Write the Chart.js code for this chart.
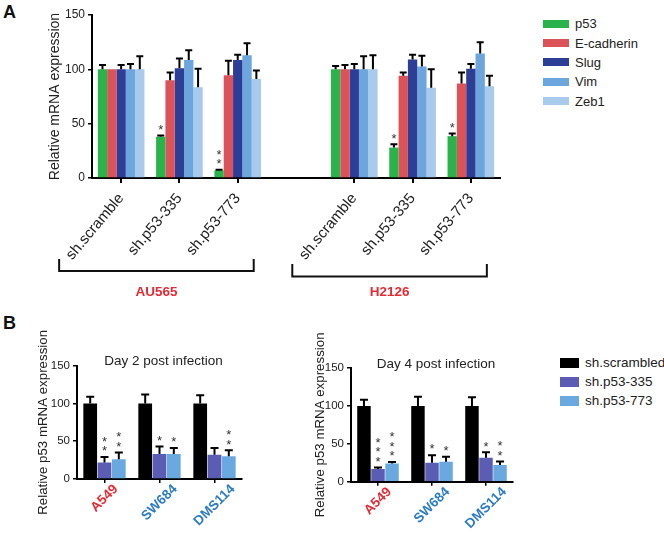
<!DOCTYPE html>
<html>
<head>
<meta charset="utf-8">
<script src="https://cdn.jsdelivr.net/npm/chart.js@4.4.1/dist/chart.umd.min.js"></script>
<style>
  body { margin: 0; background: #fff; font-family: "Liberation Sans", Arial, sans-serif; }
  #wrap { position: relative; width: 664px; height: 535px; overflow: hidden; }
  .cv { position: absolute; }
  .panel { position: absolute; font-weight: bold; font-size: 18px; color: #111; line-height: 1; }
  .legend { position: absolute; font-size: 13px; color: #222; }
  .legend .row { display: flex; align-items: center; }
  .legend .sw { display: inline-block; margin-right: 6px; }
</style>
</head>
<body>
<div id="wrap">
  <div class="panel" style="left:3px;top:3px">A</div>
  <div class="panel" style="left:3px;top:314px">B</div>
  <div class="cv" style="left:0;top:0;width:530px;height:310px"><canvas id="chartA"></canvas></div>
  <div class="cv" style="left:0;top:320px;width:260px;height:215px"><canvas id="chartD2"></canvas></div>
  <div class="cv" style="left:270px;top:320px;width:260px;height:215px"><canvas id="chartD4"></canvas></div>
  <div class="legend" id="legA" style="left:543px;top:14px"></div>
  <div class="legend" id="legB" style="left:560px;top:353px"></div>
</div>
<script>
/* ---- panel A data ---- */
var shLabels = ["sh.scramble", "sh.p53-335", "sh.p53-773", "", "sh.scramble", "sh.p53-335", "sh.p53-773"];
var geneNames = ["p53", "E-cadherin", "Slug", "Vim", "Zeb1"];
var geneColors = ["#2bb34b", "#dc5259", "#2d3e97", "#6ca6dd", "#a8caec"];
var p53Vals = [100, 38, 7, null, 100, 28, 38.5];
var p53Err = [4, 1, 0.5, null, 3, 3, 2.5];
var ecadVals = [100, 90, 94.5, null, 100, 94, 87];
var ecadErr = [0, 7, 13.5, null, 4, 3, 10];
var slugVals = [100, 101, 108.5, null, 100, 109, 100.5];
var slugErr = [4, 9, 5, null, 5, 4.5, 4.5];
var vimVals = [100, 108.5, 113, null, 100, 102.5, 114.5];
var vimErr = [5, 9, 11, null, 12, 10, 10.5];
var zeb1Vals = [100, 83.5, 91, null, 100, 83, 84.5];
var zeb1Err = [12, 17, 8, null, 13, 17, 9.5];
var p53Stars = [0, 1, 2, 0, 0, 1, 1];
var cellLines = ["AU565", "H2126"];
var cellSpans = [[0, 2], [4, 6]];

/* ---- panel B data ---- */
var lineNames = ["A549", "SW684", "DMS114"];
var lineColors = ["#e52a33", "#2b7cc4", "#2b7cc4"];
var shNames = ["sh.scrambled", "sh.p53-335", "sh.p53-773"];
var shColors = ["#000000", "#5b5db4", "#6aa9e0"];
var day2Scr = [100, 100, 100];
var day2ScrErr = [9, 12, 11];
var day2Sh335 = [22, 33, 32];
var day2Sh335Err = [7, 10, 9];
var day2Sh773 = [26, 33, 30];
var day2Sh773Err = [9, 8, 8];
var day2Stars335 = [2, 1, 0];
var day2Stars773 = [2, 1, 2];
var day4Scr = [100, 100, 100];
var day4ScrErr = [8, 12, 11.5];
var day4Sh335 = [16.7, 25, 31.7];
var day4Sh335Err = [2, 10, 7];
var day4Sh773 = [24, 26.4, 22];
var day4Sh773Err = [2, 6.6, 4.5];
var day4Stars335 = [3, 1, 1];
var day4Stars773 = [3, 1, 2];

var FONT = '"Liberation Sans", Arial, sans-serif';
Chart.defaults.font.family = FONT;
Chart.defaults.color = "#222";
Chart.defaults.animation = false;
Chart.defaults.responsive = true;
Chart.defaults.maintainAspectRatio = false;

/* one-sided error bars + significance stars, read from ds.errors / ds.stars */
var errorBars = {
  id: "errorBars",
  afterDatasetsDraw: function (chart, args, o) {
    var ctx = chart.ctx, y = chart.scales.y;
    chart.data.datasets.forEach(function (ds, di) {
      var meta = chart.getDatasetMeta(di);
      meta.data.forEach(function (bar, i) {
        var v = ds.data[i];
        if (v == null) return;
        var e = ds.errors ? ds.errors[i] || 0 : 0;
        var top = y.getPixelForValue(v + e);
        ctx.save();
        if (e > 0) {
          ctx.strokeStyle = "#000";
          ctx.lineWidth = o.width;
          ctx.beginPath();
          ctx.moveTo(bar.x, y.getPixelForValue(v));
          ctx.lineTo(bar.x, top);
          ctx.moveTo(bar.x - o.cap, top);
          ctx.lineTo(bar.x + o.cap, top);
          ctx.stroke();
        }
        var n = ds.stars ? ds.stars[i] || 0 : 0;
        ctx.fillStyle = "#333";
        ctx.font = o.starSize + "px " + FONT;
        ctx.textAlign = "center";
        ctx.textBaseline = "alphabetic";
        for (var k = 0; k < n; k++) {
          var cy = top - o.starGap - k * o.starStep;
          ctx.fillText("*", bar.x, cy + o.starSize * 0.56);
        }
        ctx.restore();
      });
    });
  }
};

/* chart title drawn just above the plot area */
var areaTitle = {
  id: "areaTitle",
  afterDraw: function (chart, args, o) {
    if (!o.text) return;
    var a = chart.chartArea, ctx = chart.ctx;
    ctx.save();
    ctx.fillStyle = "#222";
    ctx.font = "13.5px " + FONT;
    ctx.textAlign = "center";
    ctx.textBaseline = "middle";
    ctx.fillText(o.text, (a.left + a.right) / 2 + o.dx, a.top + o.dy);
    ctx.restore();
  }
};

/* category labels rotated about their centre (panel B) */
var centredLabels = {
  id: "centredLabels",
  afterDraw: function (chart, args, o) {
    if (!o.labels) return;
    var x = chart.scales.x, b = chart.chartArea.bottom, ctx = chart.ctx;
    var a = o.angle * Math.PI / 180;
    ctx.save();
    ctx.font = "bold " + o.size + "px " + FONT;
    ctx.textAlign = "center";
    ctx.textBaseline = "middle";
    o.labels.forEach(function (t, i) {
      var w = ctx.measureText(t).width;
      ctx.save();
      ctx.translate(x.getPixelForValue(i) + o.dx, b + o.gap + (w / 2) * Math.sin(a));
      ctx.rotate(-a);
      ctx.fillStyle = o.colors[i];
      ctx.fillText(t, 0, 0);
      ctx.restore();
    });
    ctx.restore();
  }
};

/* cell-line brackets under the rotated labels in panel A */
var brackets = {
  id: "brackets",
  afterDraw: function (chart, args, o) {
    if (!o.spans) return;
    var x = chart.scales.x, b = chart.chartArea.bottom, ctx = chart.ctx;
    ctx.save();
    o.spans.forEach(function (sp, i) {
      var l = x.getPixelForValue(sp[0]) - o.padL, r = x.getPixelForValue(sp[1]) + o.padR;
      var yb = b + o.lineY[i], yt = b + o.topY[i];
      ctx.strokeStyle = "#111";
      ctx.lineWidth = 2;
      ctx.beginPath();
      ctx.moveTo(l, yt); ctx.lineTo(l, yb); ctx.lineTo(r, yb); ctx.lineTo(r, yt);
      ctx.stroke();
      ctx.fillStyle = "#e52a33";
      ctx.font = "bold 13.5px " + FONT;
      ctx.textAlign = "center";
      ctx.textBaseline = "middle";
      ctx.fillText(o.names[i], (l + r) / 2, b + o.labelY);
    });
    ctx.restore();
  }
};

function axisY(title, width, titlePad, tickSize, titleSize) {
  return {
    min: 0, max: 150,
    ticks: { stepSize: 50, font: { size: tickSize }, color: "#222", padding: 3 },
    grid: { drawOnChartArea: false, tickLength: 4, color: "#000", lineWidth: 1.5 },
    border: { color: "#000", width: 2 },
    title: { display: true, text: title, font: { size: titleSize }, color: "#222", padding: { top: titlePad, bottom: 0 } },
    afterFit: function (s) { s.width = width; }
  };
}

/* ---- panel A ---- */
var setsA = [
  [p53Vals, p53Err, p53Stars],
  [ecadVals, ecadErr, null],
  [slugVals, slugErr, null],
  [vimVals, vimErr, null],
  [zeb1Vals, zeb1Err, null]
].map(function (s, i) {
  return {
    label: geneNames[i], data: s[0], errors: s[1], stars: s[2],
    backgroundColor: geneColors[i], categoryPercentage: 0.8, barPercentage: 1.0
  };
});

new Chart(document.getElementById("chartA"), {
  type: "bar",
  data: { labels: shLabels, datasets: setsA },
  options: {
    layout: { padding: { top: 15, right: 30, left: 0, bottom: 0 } },
    plugins: {
      legend: { display: false }, tooltip: { enabled: false },
      errorBars: { width: 2, cap: 3.5, starSize: 13, starGap: 9, starStep: 9 },
      brackets: { spans: cellSpans, names: cellLines, padL: 62, padR: 16, lineY: [93, 98.5], topY: [81, 86], labelY: 114 }
    },
    scales: {
      x: {
        ticks: { font: { size: 15 }, color: "#222", maxRotation: 50, minRotation: 50, padding: 7, autoSkip: false },
        grid: {
          offset: false, drawOnChartArea: false, tickLength: 5, lineWidth: 2,
          color: function (c) { return shLabels[c.index] === "" ? "rgba(0,0,0,0)" : "#000"; }
        },
        border: { color: "#000", width: 2 },
        afterFit: function (s) { s.height = 310 - 178; }
      },
      y: axisY("Relative mRNA expression", 92, 47, 12, 14)
    }
  },
  plugins: [errorBars, brackets]
});

/* ---- panel B ---- */
function dayChart(id, title, vals, errs, stars, yWidth, titlePad, padTop, padRight, xHeight) {
  var ds = vals.map(function (v, i) {
    return {
      label: shNames[i], data: v, errors: errs[i], stars: stars[i],
      backgroundColor: shColors[i], categoryPercentage: 0.78, barPercentage: 0.96
    };
  });
  return new Chart(document.getElementById(id), {
    type: "bar",
    data: { labels: lineNames, datasets: ds },
    options: {
      layout: { padding: { top: padTop, right: padRight, left: 0, bottom: 0 } },
      plugins: {
        legend: { display: false }, tooltip: { enabled: false },
        errorBars: { width: 2, cap: 4, starSize: 13, starGap: 9, starStep: 9.5 },
        areaTitle: { text: title, dx: 4, dy: -4 },
        centredLabels: { labels: lineNames, colors: lineColors, size: 13.5, angle: 45, gap: 8, dx: 0 }
      },
      scales: {
        x: {
          ticks: { display: false },
          grid: { offset: false, drawOnChartArea: false, tickLength: 4, lineWidth: 1.5, color: "#000" },
          border: { color: "#000", width: 2 },
          afterFit: function (s) { s.height = xHeight; }
        },
        y: axisY("Relative p53 mRNA expression", yWidth, titlePad, 11.5, 13.3)
      }
    },
    plugins: [errorBars, areaTitle, centredLabels]
  });
}

dayChart("chartD2", "Day 2 post infection",
  [day2Scr, day2Sh335, day2Sh773], [day2ScrErr, day2Sh335Err, day2Sh773Err], [null, day2Stars335, day2Stars773],
  77, 35, 45.7, 18, 215 - 159);
dayChart("chartD4", "Day 4 post infection",
  [day4Scr, day4Sh335, day4Sh773], [day4ScrErr, day4Sh335Err, day4Sh773Err], [null, day4Stars335, day4Stars773],
  81, 42, 48, 17, 215 - 161.7);

/* ---- HTML legends built from the series arrays ---- */
function legend(el, names, colors, w, h, rowH, size) {
  names.forEach(function (n, i) {
    var r = document.createElement("div");
    r.className = "row";
    r.style.height = rowH + "px";
    r.style.fontSize = size + "px";
    var s = document.createElement("span");
    s.className = "sw";
    s.style.width = w + "px";
    s.style.height = h + "px";
    s.style.background = colors[i];
    var t = document.createElement("span");
    t.textContent = n;
    r.appendChild(s); r.appendChild(t);
    el.appendChild(r);
  });
}
legend(document.getElementById("legA"), geneNames, geneColors, 26, 8, 19.4, 13);
legend(document.getElementById("legB"), shNames, shColors, 19, 10, 19, 13.5);
</script>
</body>
</html>
